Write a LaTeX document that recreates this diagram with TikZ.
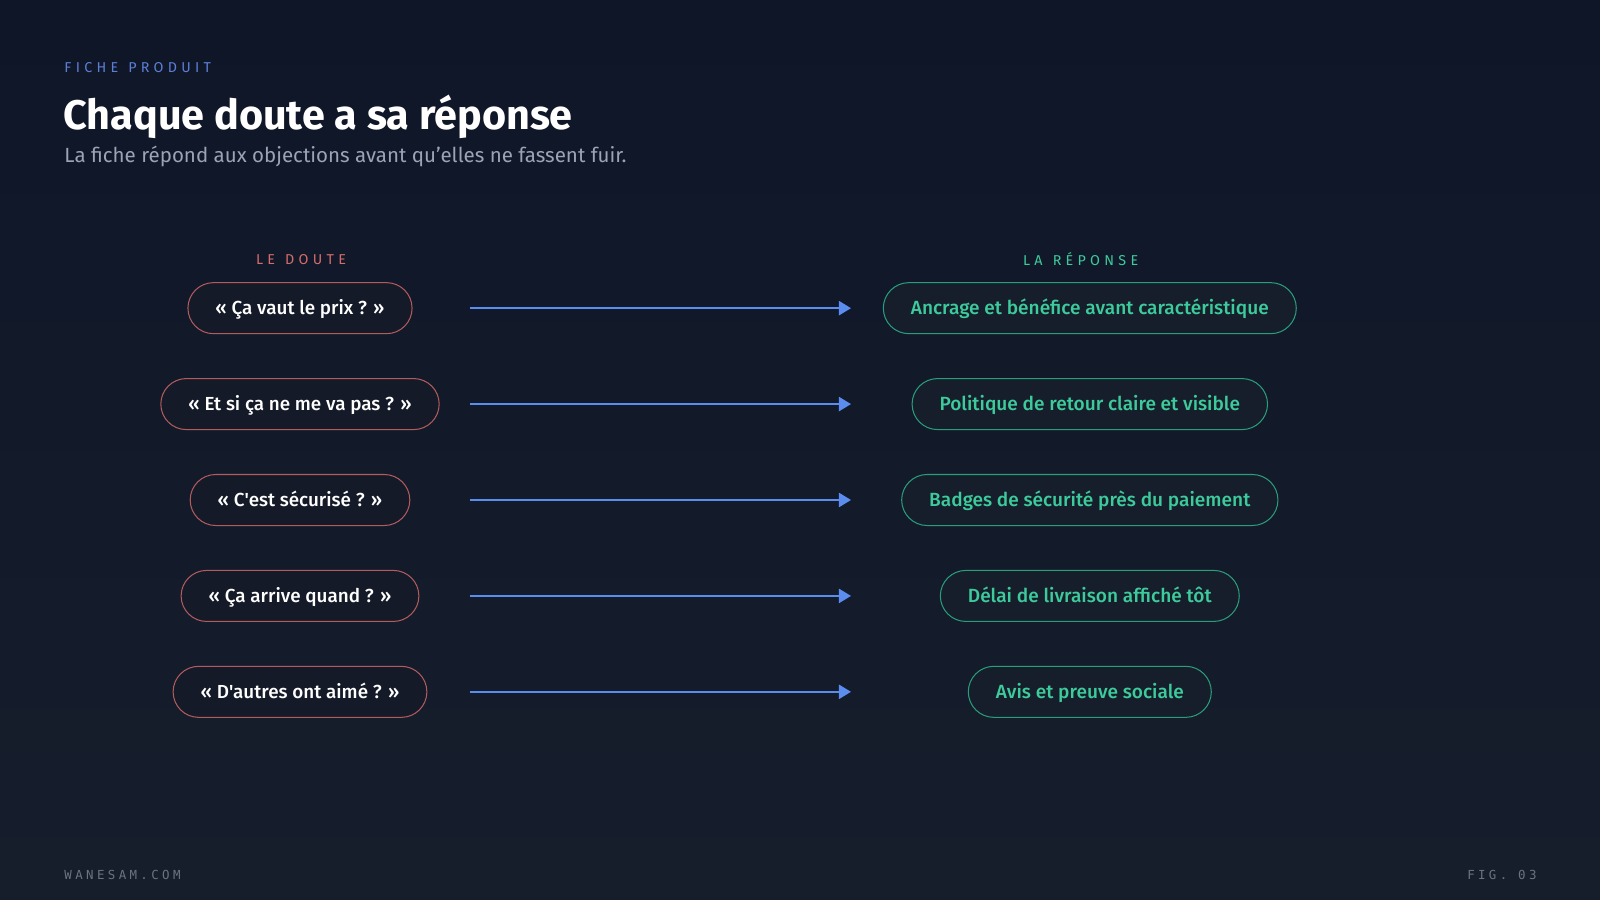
\documentclass[tikz,border=0pt]{standalone}
\usepackage{fontspec}
\usepackage{xcolor}
\usetikzlibrary{arrows.meta}
\setmainfont{Fira Sans}
\newfontfamily\medfont{Fira Sans}[UprightFont={* Medium}]
\newfontfamily\capsfont{Fira Sans}[LetterSpace=30]
\newfontfamily\footfont{DejaVu Sans Mono}[LetterSpace=27]

\definecolor{bgtop}{HTML}{0F1628}
\definecolor{bgbot}{HTML}{161D2B}
\definecolor{pillbg}{HTML}{141A28}
\definecolor{pillbgr}{HTML}{161E2C}
\definecolor{doute}{HTML}{B35C5E}
\definecolor{doutelab}{HTML}{D46C6A}
\definecolor{rep}{HTML}{2A9E7C}
\definecolor{reptext}{HTML}{3DCB9B}
\definecolor{fleche}{HTML}{5B8DEF}
\definecolor{eyebrow}{HTML}{5B7FD6}
\definecolor{subgray}{HTML}{9BA3B4}
\definecolor{footgray}{HTML}{6B7280}

\tikzset{
  pilldoute/.style={draw=doute,line width=1pt,fill=pillbg,rounded corners=25pt,
    minimum height=50pt,inner xsep=27pt,text height=13pt,text depth=0pt,text=white,
    font=\medfont\fontsize{18.5}{20}\selectfont},
  pillrep/.style={draw=rep,line width=1pt,fill=pillbgr,rounded corners=25pt,
    minimum height=50pt,inner xsep=27pt,text height=13pt,text depth=0pt,text=reptext,
    font=\medfont\fontsize{18.7}{20}\selectfont},
  coltitle/.style={font=\capsfont\fontsize{14}{16}\selectfont},
}

\begin{document}
\begin{tikzpicture}[x=1pt,y=-1pt]
\shade[top color=bgtop,bottom color=bgbot] (0,0) rectangle (1568,882);
\useasboundingbox (0,0) rectangle (1568,882);

\node[anchor=base west,inner sep=0,text=eyebrow,font=\capsfont\fontsize{14}{16}\selectfont] (eyebrow) at (63,71) {FICHE\hspace{2pt} PRODUIT};
\node[anchor=base west,inner sep=0,text=white,font=\bfseries\fontsize{40.5}{44}\selectfont] (titre) at (62,127) {Chaque doute a sa réponse};
\node[anchor=base west,inner sep=0,text=subgray,font=\fontsize{20.1}{24}\selectfont] (soustitre) at (63,159) {La fiche répond aux objections avant qu'elles ne fassent fuir.};

\node[coltitle,text=doutelab] (hdoute) at (295,254) {LE\hspace{2pt} DOUTE};
\node[coltitle,text=reptext] (hrep) at (1059,254) {LA\hspace{2pt} RÉPONSE};

\foreach \i/\y/\q/\r in {
  1/302/{« Ça vaut le prix ? »}/{Ancrage et bénéfice avant caractéristique},
  2/396/{« Et si ça ne me va pas ? »}/{Politique de retour claire et visible},
  3/490/{« C'est sécurisé ? »}/{Badges de sécurité près du paiement},
  4/584/{« Ça arrive quand ? »}/{Délai de livraison affiché tôt},
  5/678/{« D'autres ont aimé ? »}/{Avis et preuve sociale}}{
  \node[pilldoute] (d\i) at (294,\y) {\q};
  \node[pillrep] (r\i) at (1068,\y) {\r};
  \coordinate (s\i) at (461,\y);
  \coordinate (e\i) at (834,\y);
  \draw[fleche,line width=2pt,-{Triangle[length=12pt,width=14pt]}] (s\i)--(e\i);
}

\node[anchor=base west,inner sep=0,text=footgray,font=\footfont\fontsize{12.2}{14}\selectfont] (site) at (63,862) {WANESAM.COM};
\node[anchor=base east,inner sep=0,text=footgray,font=\footfont\fontsize{12.2}{14}\selectfont] (fig) at (1506,862) {FIG. 03};
\end{tikzpicture}
\end{document}
